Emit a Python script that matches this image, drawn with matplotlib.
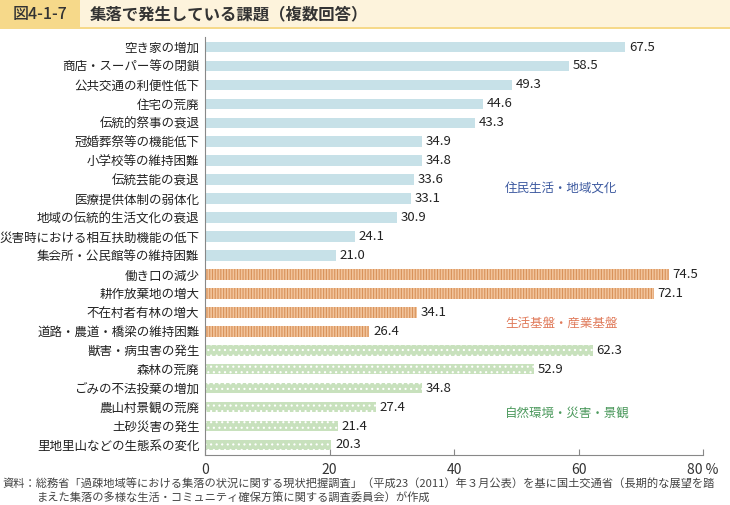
import matplotlib
matplotlib.use("Agg")
import matplotlib.pyplot as plt
from matplotlib.patches import Rectangle

plt.rcParams['font.family'] = ['Noto Sans CJK JP', 'DejaVu Sans']

categories = [
    "空き家の増加", "商店・スーパー等の閉鎖", "公共交通の利便性低下", "住宅の荒廃",
    "伝統的祭事の衰退", "冠婚葬祭等の機能低下", "小学校等の維持困難", "伝統芸能の衰退",
    "医療提供体制の弱体化", "地域の伝統的生活文化の衰退", "災害時における相互扶助機能の低下",
    "集会所・公民館等の維持困難",
    "働き口の減少", "耕作放棄地の増大", "不在村者有林の増大", "道路・農道・橋梁の維持困難",
    "獣害・病虫害の発生", "森林の荒廃", "ごみの不法投棄の増加", "農山村景観の荒廃",
    "土砂災害の発生", "里地里山などの生態系の変化",
]
values = [67.5, 58.5, 49.3, 44.6, 43.3, 34.9, 34.8, 33.6, 33.1, 30.9, 24.1, 21.0,
          74.5, 72.1, 34.1, 26.4,
          62.3, 52.9, 34.8, 27.4, 21.4, 20.3]
groups = [0]*12 + [1]*4 + [2]*6
group_names = ["住民生活・地域文化", "生活基盤・産業基盤", "自然環境・災害・景観"]
xticks = [0, 20, 40, 60, 80]
xticklabels = ["0", "20", "40", "60", "80 %"]

n = len(categories)
fig = plt.figure(figsize=(7.3, 5.05), dpi=100)

# header
fig.patches.append(Rectangle((0, 1 - 27/505), 1, 27/505, transform=fig.transFigure,
                             facecolor="#fdf3dc", edgecolor="none"))
fig.patches.append(Rectangle((0, 1 - 27/505), 80/730, 27/505, transform=fig.transFigure,
                             facecolor="#f6d98a", edgecolor="none"))
fig.patches.append(Rectangle((0, 1 - 29/505), 1, 2/505, transform=fig.transFigure,
                             facecolor="#f6d98a", edgecolor="none"))
fig.text(13/730, 1 - 14/505, "図4-1-7", fontsize=11.5, color="#333333", va="center", ha="left",
         fontweight="medium")
fig.text(90/730, 1 - 14/505, "集落で発生している課題（複数回答）", fontsize=11.8, color="#333333",
         va="center", ha="left", fontweight="bold")

ax = fig.add_axes([205/730, 1 - 455/505, 498/730, 418/505])
pos = list(range(n))

face = ["#c7e1e8", "#f2c49c", "#c8e1bd"]
hatch = [None, "||||||", "..."]
hedge = ["#c7e1e8", "#d8925a", "#ffffff"]
plt.rcParams['hatch.linewidth'] = 0.8
for i, (v, g) in enumerate(zip(values, groups)):
    ax.barh(pos[i], v, height=0.56, color=face[g], edgecolor=hedge[g], hatch=hatch[g],
            linewidth=0)
    ax.text(v + 0.6, pos[i], f"{v:.1f}", va="center", ha="left", fontsize=9.5, color="#222222")

ax.set_ylim(n - 1 + 0.53, -0.53)
ax.set_xlim(0, 80)
ax.set_yticks(pos)
ax.set_yticklabels(categories, fontsize=9, color="#222222")
ax.tick_params(axis="y", length=0, pad=4)
ax.set_xticks(xticks)
ax.set_xticklabels(xticklabels, fontsize=10, color="#333333")
ax.tick_params(axis="x", direction="in", length=4, color="#888888", pad=6)
for s in ["top", "right"]:
    ax.spines[s].set_visible(False)
for s in ["left", "bottom"]:
    ax.spines[s].set_color("#888888")
    ax.spines[s].set_linewidth(0.8)

gcol = ["#3d5aa0", "#e07a5a", "#4d9a5e"]
gy = [7.44, 14.56, 19.3]
for name, c, y in zip(group_names, gcol, gy):
    ax.text(48.2, y, name, color=c, fontsize=9, va="center", ha="left")

fig.text(2/730, 1 - 483/505, "資料：総務省「過疎地域等における集落の状況に関する現状把握調査」（平成23（2011）年３月公表）を基に国土交通省（長期的な展望を踏",
         fontsize=8.1, color="#444444", va="center", ha="left")
fig.text(37/730, 1 - 498/505, "まえた集落の多様な生活・コミュニティ確保方策に関する調査委員会）が作成",
         fontsize=8.1, color="#444444", va="center", ha="left")

fig.savefig("out.png", dpi=100)
